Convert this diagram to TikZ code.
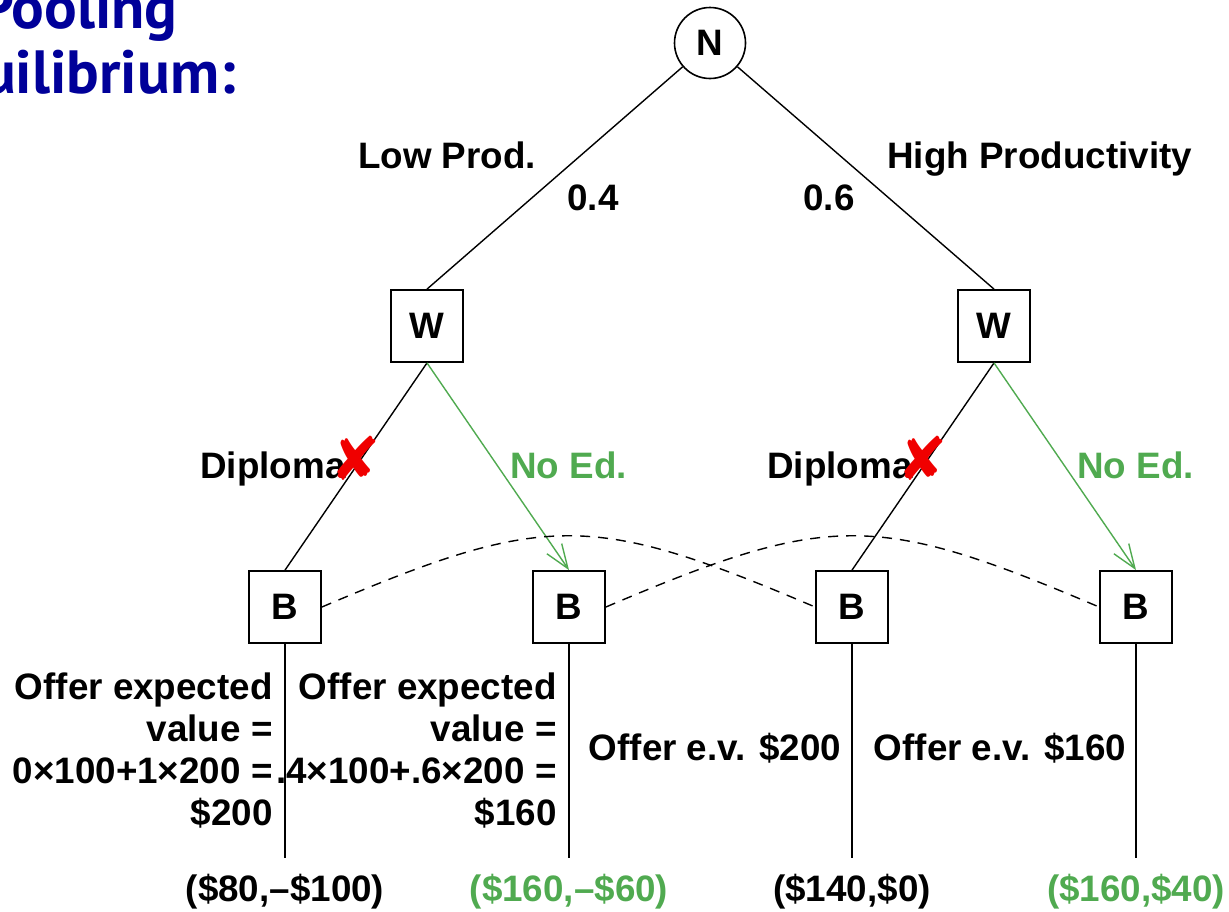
\documentclass[tikz,border=0pt]{standalone}
\usepackage{fontspec}
\setmainfont{Liberation Sans}
\newfontfamily\titlefont{PT Sans}
\newfontfamily\djv{DejaVu Sans}
\usetikzlibrary{arrows.meta}
\definecolor{titleblue}{RGB}{0,0,153}
\definecolor{eqgreen}{RGB}{80,170,80}
\definecolor{xred}{RGB}{240,0,0}
\begin{document}
\begin{tikzpicture}[x=0.5pt,y=-0.5pt,
  every node/.style={font=\fontsize{18.4}{21}\selectfont\bfseries},
  decbox/.style={draw, line width=0.9pt, minimum width=36pt, minimum height=36pt, inner sep=0pt},
  chance/.style={draw, circle, line width=0.8pt, minimum size=35.5pt, inner sep=0pt},
  edge/.style={line width=0.7pt},
  eqedge/.style={line width=0.7pt, draw=eqgreen, -{Straight Barb[length=12pt,width=9pt,line width=0.7pt]}},
  info/.style={line width=0.7pt, dashed, dash pattern=on 5pt off 4pt},
  lbl/.style={inner sep=0pt},
  greenlbl/.style={inner sep=0pt, text=eqgreen},
  cross/.style={inner sep=0pt, text=xred, font=\djv\fontsize{30}{30}\selectfont},
  titletext/.style={inner sep=0pt, text=titleblue, font=\titlefont\bfseries\fontsize{30.5}{30.5}\selectfont}
]
\useasboundingbox (0,0) rectangle (1229,911);

% title (cut at left edge)
\node[titletext, anchor=base east] (t1) at (178,28) {Pooling};
\node[titletext, anchor=base east] (t2) at (236,93) {Equilibrium:};

% nodes
\node[chance] (N) at (710,43) {N};
\node[decbox] (WL) at (427,326) {W};
\node[decbox] (WR) at (994,326) {W};
\node[decbox] (B1) at (285,607) {B};
\node[decbox] (B2) at (569,607) {B};
\node[decbox] (B3) at (852,607) {B};
\node[decbox] (B4) at (1136,607) {B};

\coordinate (E1) at (285,858);
\coordinate (E2) at (569,858);
\coordinate (E3) at (852,858);
\coordinate (E4) at (1136,858);

% edges
\draw[edge] (N) -- (WL.north);
\draw[edge] (N) -- (WR.north);
\draw[edge] (WL.south) -- (B1.north);
\draw[eqedge] (WL.south) -- (B2.north);
\draw[edge] (WR.south) -- (B3.north);
\draw[eqedge] (WR.south) -- (B4.north);
\draw[edge] (B1.south) -- (E1);
\draw[edge] (B2.south) -- (E2);
\draw[edge] (B3.south) -- (E3);
\draw[edge] (B4.south) -- (E4);

% information sets
\draw[info] (B1.east) .. controls (545,512) and (592,512) .. (B3.west);
\draw[info] (B2.east) .. controls (829,512) and (876,512) .. (B4.west);

% branch labels
\node[lbl, anchor=base] (lp) at (447,168) {Low Prod.};
\node[lbl, anchor=base] (p4) at (593,210) {0.4};
\node[lbl, anchor=base] (p6) at (829,210) {0.6};
\node[lbl, anchor=base west] (hp) at (887,168) {High Productivity};
\node[lbl, anchor=base west] (d1) at (200,478) {Diploma};
\node[greenlbl, anchor=base west] (n1) at (510,478) {No Ed.};
\node[lbl, anchor=base west] (d2) at (767,478) {Diploma};
\node[greenlbl, anchor=base west] (n2) at (1077,478) {No Ed.};
\node[cross] (x1) at (356,458) {✘};
\node[cross] (x2) at (923,458) {✘};

% offers
\node[lbl, anchor=base east] (o1a) at (273,699) {Offer expected};
\node[lbl, anchor=base east] (o1b) at (273,741) {value =};
\node[lbl, anchor=base east] (o1c) at (273,783) {0×100+1×200 =};
\node[lbl, anchor=base east] (o1d) at (273,825) {\$200};
\node[lbl, anchor=base east] (o2a) at (557,699) {Offer expected};
\node[lbl, anchor=base east] (o2b) at (557,741) {value =};
\node[lbl, anchor=base east] (o2c) at (557,783) {.4×100+.6×200 =};
\node[lbl, anchor=base east] (o2d) at (557,825) {\$160};
\node[lbl, anchor=base] (o3) at (715,760) {Offer e.v. \$200};
\node[lbl, anchor=base] (o4) at (1000,760) {Offer e.v. \$160};

% payoffs
\node[lbl, anchor=base] (u1) at (285,901) {(\$80,–\$100)};
\node[greenlbl, anchor=base] (u2) at (569,901) {(\$160,–\$60)};
\node[lbl, anchor=base] (u3) at (852,901) {(\$140,\$0)};
\node[greenlbl, anchor=base] (u4) at (1136,901) {(\$160,\$40)};
\end{tikzpicture}
\end{document}
